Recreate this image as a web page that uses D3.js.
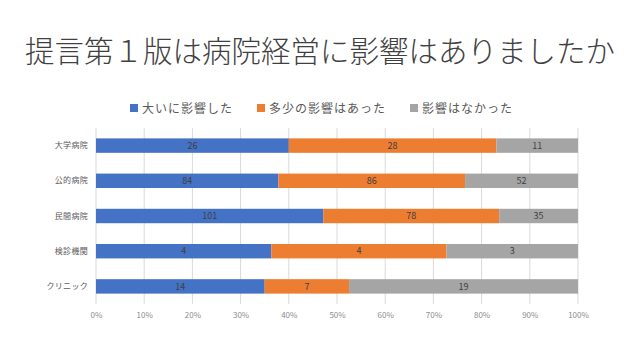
<!DOCTYPE html>
<html>
<head>
<meta charset="utf-8">
<script src="https://cdn.jsdelivr.net/npm/d3@7"></script>
<style>
  body { margin: 0; background: #fff; }
  text { font-family: "Noto Sans CJK JP", "Noto Sans", sans-serif; }
</style>
</head>
<body>
<svg id="chart"></svg>
<script>
const categories = ['大学病院', '公的病院', '民間病院', '検診機関', 'クリニック']
const seriesNames = ['大いに影響した', '多少の影響はあった', '影響はなかった']
const seriesColors = ['#4472C4', '#ED7D31', '#A5A5A5']
const large = [26, 84, 101, 4, 14]
const some = [28, 86, 78, 4, 7]
const none = [11, 52, 35, 3, 19]
const tickValues = [0, 0.1, 0.2, 0.3, 0.4, 0.5, 0.6, 0.7, 0.8, 0.9, 1]

const width = 640
const height = 360
const margin = { left: 96, right: 62, top: 128, bottom: 56 }

const svg = d3.select('#chart').attr('width', width).attr('height', height)

// title
svg.append('text')
  .attr('x', width / 2)
  .attr('y', 62)
  .attr('text-anchor', 'middle')
  .attr('font-size', 29.5)
  .attr('font-weight', 300)
  .attr('fill', '#404040')
  .text('提言第１版は病院経営に影響はありましたか')

// legend
const legendX = [130, 257, 410]
const legend = svg.append('g')
seriesNames.forEach((name, i) => {
  const g = legend.append('g').attr('transform', `translate(${legendX[i]},108)`)
  g.append('rect').attr('x', 0).attr('y', -4).attr('width', 8).attr('height', 8).attr('fill', seriesColors[i])
  g.append('text')
    .attr('x', 12)
    .attr('y', 4.5)
    .attr('font-size', 12)
    .attr('letter-spacing', 1)
    .attr('fill', '#595959')
    .text(name)
})

const rows = categories.map((c, i) => {
  const vals = [large[i], some[i], none[i]]
  const total = d3.sum(vals)
  let acc = 0
  return {
    category: c,
    parts: vals.map((v, k) => {
      const p = { k, value: v, x0: acc / total, x1: (acc + v) / total }
      acc += v
      return p
    }),
  }
})

const x = d3.scaleLinear().domain([0, 1]).range([margin.left, width - margin.right])
const y = d3.scaleBand()
  .domain(categories)
  .range([margin.top, height - margin.bottom])
  .paddingInner(0.59)
  .paddingOuter(0.295)

// gridlines
svg.append('g')
  .selectAll('line')
  .data(tickValues)
  .join('line')
  .attr('x1', d => x(d)).attr('x2', d => x(d))
  .attr('y1', margin.top).attr('y2', height - margin.bottom)
  .attr('stroke', '#d9d9d9')
  .attr('stroke-width', 1)

// x axis labels
const xAxis = svg.append('g')
  .attr('transform', `translate(0,${height - margin.bottom})`)
  .call(d3.axisBottom(x).tickValues(tickValues).tickFormat(d3.format('.0%')).tickSize(0).tickPadding(8))
xAxis.select('.domain').remove()
xAxis.selectAll('text').attr('font-size', 8).attr('fill', '#8c8c8c')

// y axis labels
const yAxis = svg.append('g')
  .attr('transform', `translate(${margin.left},0)`)
  .call(d3.axisLeft(y).tickSize(0).tickPadding(8))
yAxis.select('.domain').remove()
yAxis.selectAll('text').attr('font-size', 8).attr('letter-spacing', 0.3).attr('fill', '#595959')

// bars
const rowG = svg.append('g')
  .selectAll('g')
  .data(rows)
  .join('g')
  .attr('transform', d => `translate(0,${y(d.category)})`)

rowG.selectAll('rect')
  .data(d => d.parts)
  .join('rect')
  .attr('x', d => x(d.x0))
  .attr('width', d => x(d.x1) - x(d.x0))
  .attr('y', 0)
  .attr('height', y.bandwidth())
  .attr('fill', d => seriesColors[d.k])

rowG.selectAll('text')
  .data(d => d.parts)
  .join('text')
  .attr('x', d => (x(d.x0) + x(d.x1)) / 2)
  .attr('y', y.bandwidth() / 2 + 3.2)
  .attr('text-anchor', 'middle')
  .attr('font-size', 9)
  .attr('fill', '#404040')
  .text(d => d.value)
</script>
</body>
</html>
